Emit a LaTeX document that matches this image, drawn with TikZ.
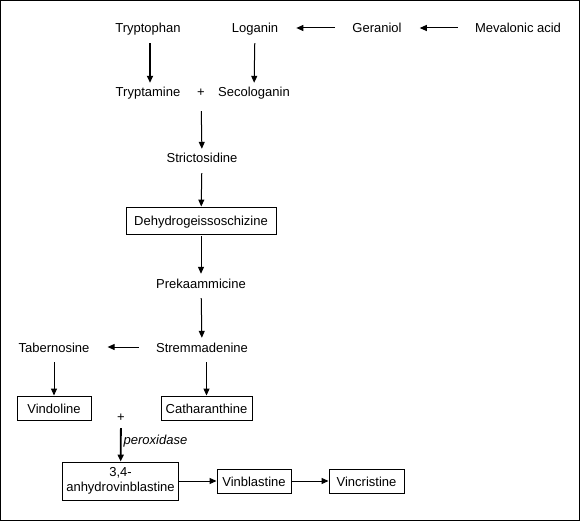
\documentclass[tikz,border=0pt]{standalone}
\usepackage{fontspec}
\setmainfont{Liberation Sans}
\usetikzlibrary{arrows.meta}

\begin{document}
\begin{tikzpicture}[x=1pt, y=-1pt,
    font=\fontsize{13}{15}\selectfont,
    compound/.style={inner xsep=15pt, inner ysep=3pt, text height=11pt, text depth=1pt},
    product/.style={draw, line width=0.9pt, inner xsep=4pt, inner ysep=0pt, minimum height=24pt, minimum width=74pt, text height=11pt, text depth=1pt},
    react/.style={-{Triangle[length=7pt,width=6pt]}, line width=1pt, shorten <=6pt},
    side/.style={-{Triangle[length=7pt,width=6pt]}, line width=1pt, shorten <=2pt, shorten >=3pt},
    strong/.style={line width=1.8pt}]
\useasboundingbox (0,0) rectangle (580,521);
\draw[line width=1.2pt] (0.6,0.6) rectangle (579.4,520.4);

% precursors
\node[compound] (tryptophan) at (148,28) {Tryptophan};
\node[compound] (loganin) at (255,28) {Loganin};
\node[compound] (geraniol) at (377,28) {Geraniol};
\node[compound] (mevalonic) at (518,28) {Mevalonic acid};
\node[compound] (tryptamine) at (148,92) {Tryptamine};
\node[compound, inner xsep=2pt] (plus1) at (201,92) {+};
\node[compound] (secologanin) at (254,92) {Secologanin};

% main chain
\node[compound] (strictosidine) at (202,158) {Strictosidine};
\node[product, minimum width=150pt, minimum height=27pt] (dehydro) at (201,220.5) {Dehydrogeissoschizine};
\node[compound] (prekaammicine) at (201,283) {Prekaammicine};
\node[compound] (stremmadenine) at (202,347) {Stremmadenine};
\node[compound] (tabernosine) at (54,347) {Tabernosine};
\node[product] (vindoline) at (54,408) {Vindoline};
\node[product, minimum width=91pt] (catharanthine) at (206.5,408) {Catharanthine};
\node[compound, inner xsep=2pt] (plus2) at (121,416) {+};

% dimers
\node[product, minimum width=115pt, minimum height=38pt, align=center, text height=, text depth=] (anhydro) at (120.5,481) {3,4-\\anhydrovinblastine};
\node[product] (vinblastine) at (254,481) {Vinblastine};
\node[product, minimum width=75pt] (vincristine) at (366.5,481) {Vincristine};

\draw[side] (geraniol) -- (loganin);
\draw[side] (mevalonic) -- (geraniol);
\draw[react, strong] (tryptophan.south -| 150,0) -- (tryptamine.north -| 150,0);
\draw[react] (loganin) -- (secologanin);
\draw[react, shorten <=10pt] (plus1) -- (strictosidine);
\draw[react] (strictosidine) -- (dehydro);
\draw[react, shorten <=2pt] (dehydro) -- (prekaammicine);
\draw[react] (prekaammicine) -- (stremmadenine);
\draw[side] (stremmadenine) -- (tabernosine);
\draw[react] (tabernosine) -- (vindoline);
\draw[react] (stremmadenine.south -| catharanthine.north) -- (catharanthine);
\draw[react, strong, shorten <=3pt] (plus2) -- node[right, pos=0.45, font=\fontsize{13}{15}\selectfont\itshape, inner xsep=2pt] {peroxidase} (anhydro);
\draw[side, shorten <=0pt, shorten >=0pt] (anhydro.east |- vinblastine) -- (vinblastine);
\draw[side, shorten <=0pt, shorten >=0pt] (vinblastine) -- (vincristine);
\end{tikzpicture}
\end{document}
